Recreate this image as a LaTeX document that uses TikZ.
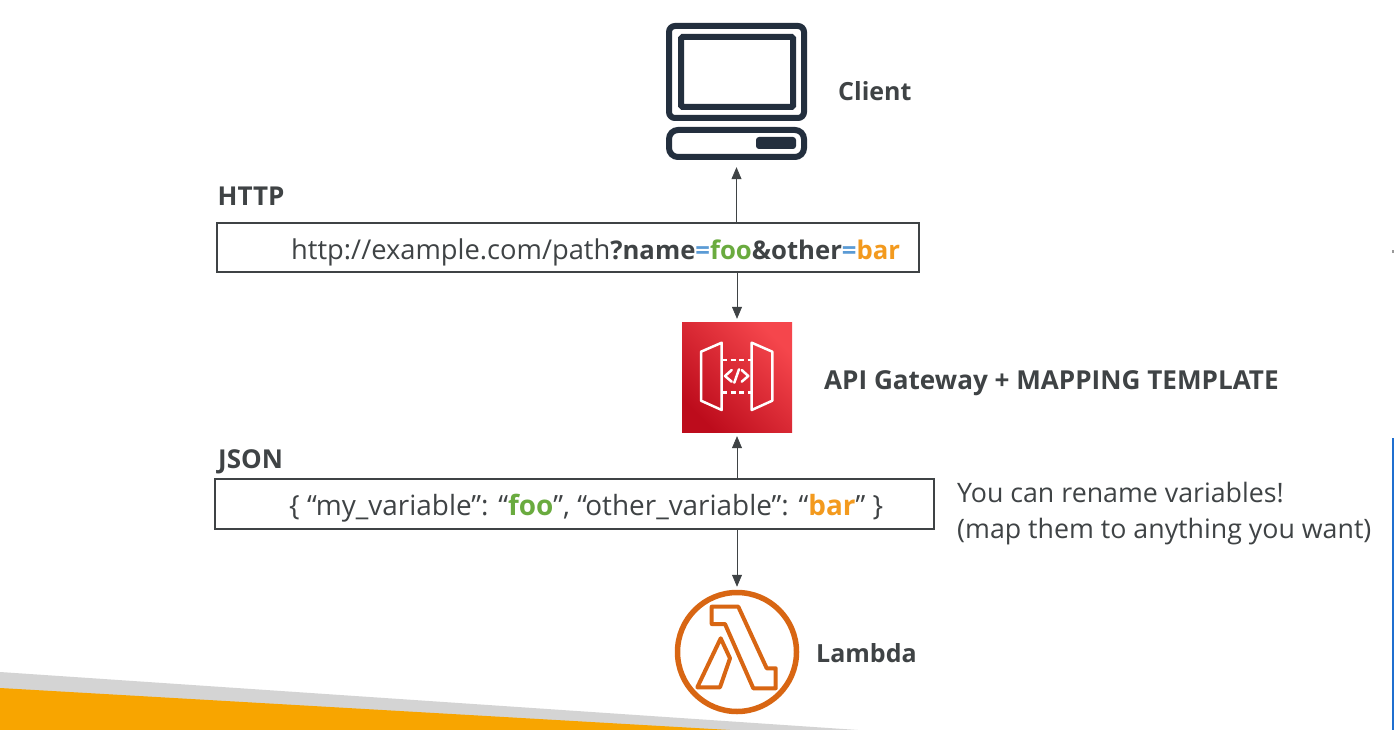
\documentclass[tikz,border=0pt]{standalone}
\usepackage{xcolor}
\usepackage{fontspec}
\setmainfont{Open Sans}
\definecolor{txtgray}{HTML}{3F4345}
\definecolor{navy}{HTML}{232F3E}
\definecolor{lamorange}{HTML}{D86613}
\definecolor{foogreen}{HTML}{6AAB3F}
\definecolor{eqblue}{HTML}{5B9BD5}
\definecolor{barorange}{HTML}{F39A1E}
\tikzset{
  plainlabel/.style={inner sep=0pt,text=txtgray,font=\fontsize{26.75}{36}\selectfont},
  boldlabel/.style={inner sep=0pt,text=txtgray,font=\fontsize{25}{30}\selectfont\bfseries},
  valuebox/.style={draw=txtgray,line width=1.5pt,fill=white,inner sep=0pt},
  flow/.style={draw=txtgray,line width=0.7pt,-{Triangle[length=12pt,width=10pt]}},
}
\usetikzlibrary{arrows.meta}
\begin{document}
\begin{tikzpicture}[x=1pt,y=-1pt]
\useasboundingbox (0,0) rectangle (1394,730);
\fill[white] (0,0) rectangle (1394,730);
% bottom wedges
\fill[black!17] (0,672) -- (858,730) -- (0,730) -- cycle;
\fill[fill={rgb,255:red,248;green,165;blue,0}] (0,688) -- (730,730) -- (0,730) -- cycle;
% right edge
\draw[line width=2pt,draw={rgb,255:red,31;green,111;blue,208}] (1392.5,438) -- (1392.5,730);
\fill[black!40] (1391.5,250) rectangle (1394,253);

% client
\node[minimum width=141pt,minimum height=137pt,inner sep=0pt] (client) at (736.5,91.5) {};
\begin{scope}[draw=navy,line width=6pt,rounded corners=6pt]
\draw (669,26) rectangle (804,118);
\draw[rounded corners=1.5pt] (681,37) rectangle (793,107);
\draw[rounded corners=9pt] (669,130) rectangle (804,157);
\fill[navy,rounded corners=3pt] (756,137) rectangle (796,149);
\end{scope}
\node[boldlabel,anchor=west] (clientlabel) at (838,91) {Client};

% http box
\node[boldlabel,anchor=west,font=\fontsize{26}{30}\selectfont\bfseries] (httplabel) at (217.5,196) {HTTP};
\node[valuebox,minimum width=702pt,minimum height=49pt] (httpbox) at (568,247.5) {};
\node[plainlabel,anchor=west,font=\fontsize{27.3}{30}\selectfont] (httptext) at (291,252) {http://example.com/path{\fontsize{25.7}{30}\selectfont\bfseries ?name{\color{eqblue}=}{\color{foogreen}foo}\&other{\color{eqblue}=}{\color{barorange}bar}}};

% api gateway
\node[minimum size=110pt,inner sep=0pt,bottom color={rgb,255:red,189;green,12;blue,28},top color={rgb,255:red,245;green,70;blue,76},shading angle=-45] (gateway) at (737,377) {};
\begin{scope}[draw=white,line width=2.5pt,line join=round,line cap=round]
\draw (701,351.7) -- (721.7,342.7) -- (721.7,410) -- (701,400.7) -- cycle;
\draw (751.7,342.7) -- (772.3,351.7) -- (772.3,400.7) -- (751.7,410) -- cycle;
\draw[line cap=butt,dash pattern=on 5pt off 3.5pt] (722,360) -- (752,360);
\draw[line cap=butt,dash pattern=on 5pt off 3.5pt] (722,392.7) -- (752,392.7);
\draw (731.7,370) -- (725,376) -- (731.7,381.7);
\draw (741.7,370) -- (748.3,376) -- (741.7,381.7);
\draw (739,369.3) -- (734.3,382.7);
\end{scope}
\node[boldlabel,anchor=west,font=\fontsize{26.1}{30}\selectfont\bfseries] (gatewaylabel) at (824,383) {API Gateway + MAPPING TEMPLATE};

% json box
\node[boldlabel,anchor=west,font=\fontsize{26}{30}\selectfont\bfseries] (jsonlabel) at (218,462) {JSON};
\node[valuebox,minimum width=719pt,minimum height=50pt] (jsonbox) at (574.5,504) {};
\node[plainlabel,anchor=west,font=\fontsize{27.9}{30}\selectfont] (jsontext) at (289,508) {\{ “my\_variable”: “\textbf{\color{foogreen}foo}”, “other\_variable”: “\textbf{\color{barorange}bar}” \}};
\node[plainlabel,anchor=north west,align=left] (note) at (957,482) {You can rename variables!\\(map them to anything you want)};

% lambda
\node[circle,draw=lamorange,line width=5.5pt,minimum size=119pt,inner sep=0pt] (lambda) at (737,652) {};
\begin{scope}[draw=lamorange,line width=4pt,line join=round]
\draw (711.7,606.7) -- (738.3,606.7) -- (766.7,668.3) -- (775.7,668.3) -- (775.7,688.3) -- (753.3,688.3) -- (725,624) -- (711.7,624) -- cycle;
\draw (720.7,638.3) -- (730,658.3) -- (720,687.3) -- (697.3,687.3) -- cycle;
\end{scope}
\node[boldlabel,anchor=west] (lambdalabel) at (816,653) {Lambda};

% connectors
\draw[flow,shorten >=7pt] (httpbox.north -| client) -- (client.south);
\draw[flow,shorten >=3pt] (httpbox.south -| gateway) -- (gateway.north);
\draw[flow,shorten >=4pt] (jsonbox.north -| gateway) -- (gateway.south);
\draw[flow,shorten >=3pt] (jsonbox.south -| lambda) -- (lambda.north);
\end{tikzpicture}
\end{document}
